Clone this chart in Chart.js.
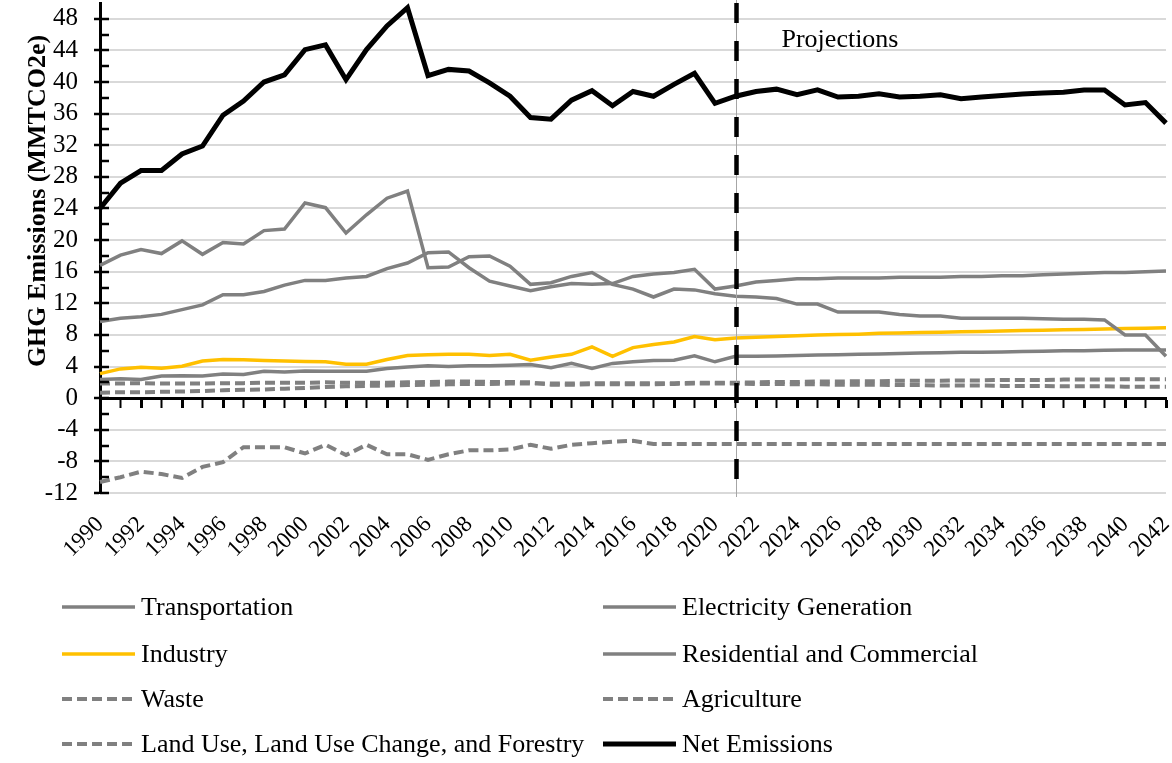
<!DOCTYPE html>
<html>
<head>
<meta charset="utf-8">
<script src="https://cdn.jsdelivr.net/npm/chart.js@4.4.0/dist/chart.umd.min.js"></script>
<style>
html, body { margin: 0; padding: 0; background: #fff; }
#wrap { width: 1172px; height: 763px; position: relative; }
</style>
</head>
<body>
<div id="wrap"><canvas id="ghg-chart"></canvas></div>
<script>
// anos 1990-2042
const anos = ["1990","1991","1992","1993","1994","1995","1996","1997","1998","1999",
  "2000","2001","2002","2003","2004","2005","2006","2007","2008","2009",
  "2010","2011","2012","2013","2014","2015","2016","2017","2018","2019",
  "2020","2021","2022","2023","2024","2025","2026","2027","2028","2029",
  "2030","2031","2032","2033","2034","2035","2036","2037","2038","2039",
  "2040","2041","2042"];
const inicioProjecao = "2021";

const transportation = [9.7,10.1,10.3,10.6,11.2,11.8,13.1,13.1,13.5,14.3,
  14.9,14.9,15.2,15.4,16.4,17.1,18.4,18.5,16.5,14.8,
  14.2,13.6,14.1,14.5,14.4,14.5,15.4,15.7,15.9,16.3,
  13.8,14.2,14.7,14.9,15.1,15.1,15.2,15.2,15.2,15.3,
  15.3,15.3,15.4,15.4,15.5,15.5,15.6,15.7,15.8,15.9,
  15.9,16.0,16.1];
const electricity = [16.8,18.1,18.8,18.3,19.9,18.2,19.7,19.5,21.2,21.4,
  24.7,24.1,20.9,23.2,25.3,26.2,16.5,16.6,17.9,18.0,
  16.7,14.4,14.6,15.4,15.9,14.4,13.8,12.8,13.8,13.7,
  13.2,12.9,12.8,12.6,11.9,11.9,10.9,10.9,10.9,10.6,
  10.4,10.4,10.1,10.1,10.1,10.1,10.05,10.0,10.0,9.9,
  8.0,8.0,5.3];
const industry = [3.1,3.7,3.9,3.8,4.05,4.7,4.9,4.85,4.75,4.7,
  4.65,4.6,4.3,4.3,4.9,5.4,5.5,5.55,5.55,5.4,
  5.55,4.8,5.2,5.55,6.5,5.3,6.4,6.8,7.1,7.8,
  7.4,7.6,7.7,7.8,7.9,8.0,8.05,8.1,8.2,8.25,
  8.3,8.35,8.4,8.45,8.5,8.55,8.6,8.65,8.7,8.75,
  8.8,8.85,8.9];
const resCom = [2.35,2.45,2.35,2.8,2.85,2.8,3.05,3.0,3.4,3.3,
  3.45,3.4,3.4,3.4,3.75,3.95,4.1,4.0,4.1,4.1,
  4.15,4.25,3.85,4.4,3.75,4.4,4.6,4.75,4.8,5.35,
  4.6,5.3,5.3,5.35,5.4,5.45,5.5,5.55,5.6,5.65,
  5.7,5.75,5.8,5.8,5.85,5.9,5.95,6.0,6.0,6.05,
  6.1,6.1,6.1];
const waste = [0.7,0.75,0.75,0.8,0.85,0.9,1.0,1.05,1.1,1.2,
  1.3,1.4,1.5,1.55,1.6,1.65,1.7,1.75,1.8,1.8,
  1.85,1.85,1.85,1.85,1.9,1.9,1.9,1.9,1.9,1.95,
  1.95,1.95,2.0,2.05,2.05,2.1,2.1,2.15,2.15,2.2,
  2.2,2.2,2.25,2.25,2.3,2.3,2.3,2.35,2.35,2.35,
  2.4,2.4,2.4];
const agriculture = [1.85,1.85,1.9,1.85,1.85,1.85,1.9,1.9,1.95,1.95,
  1.95,2.0,1.95,1.95,1.95,2.0,2.05,2.1,2.1,2.05,
  2.05,2.0,1.7,1.7,1.75,1.75,1.75,1.75,1.8,1.85,
  1.85,1.85,1.8,1.8,1.75,1.75,1.7,1.7,1.7,1.65,
  1.65,1.6,1.6,1.6,1.55,1.55,1.55,1.5,1.5,1.5,
  1.45,1.45,1.45];
const lulucf = [-10.6,-10.0,-9.3,-9.6,-10.1,-8.7,-8.1,-6.2,-6.2,-6.2,
  -7.0,-5.9,-7.2,-5.9,-7.1,-7.1,-7.8,-7.1,-6.6,-6.6,
  -6.5,-5.9,-6.4,-5.9,-5.7,-5.5,-5.4,-5.8,-5.8,-5.8,
  -5.8,-5.8,-5.8,-5.8,-5.8,-5.8,-5.8,-5.8,-5.8,-5.8,
  -5.8,-5.8,-5.8,-5.8,-5.8,-5.8,-5.8,-5.8,-5.8,-5.8,
  -5.8,-5.8,-5.8];
const netEmissions = [24.0,27.2,28.8,28.8,30.9,31.9,35.8,37.6,40.0,40.9,
  44.1,44.7,40.3,44.1,47.1,49.4,40.8,41.6,41.4,39.9,
  38.2,35.5,35.3,37.7,38.9,37.0,38.8,38.2,39.7,41.1,
  37.3,38.2,38.8,39.1,38.4,39.0,38.1,38.2,38.5,38.1,
  38.2,38.4,37.9,38.1,38.3,38.5,38.6,38.7,39.0,39.0,
  37.1,37.4,34.8];

const cinza = "#808080";
const amarelo = "#ffc000";
const fonte = "'Liberation Serif', 'Times New Roman', serif";
Chart.defaults.font.family = fonte;
Chart.defaults.color = "#000";

function linha(label, data, cor, largura, tracejado, ordem) {
  return {
    label: label,
    data: data,
    borderColor: cor,
    backgroundColor: cor,
    borderWidth: largura,
    borderDash: tracejado,
    pointRadius: 0,
    tension: 0,
    fill: false,
    order: ordem
  };
}

// legenda em duas colunas + linha de projecao + titulo do eixo
const extras = {
  id: "extras",
  afterDatasetsDraw(chart) {
    const ctx = chart.ctx;
    const xs = chart.scales.x;
    const ys = chart.scales.y;
    const area = chart.chartArea;

    // marcas internas do eixo y
    ctx.save();
    ctx.strokeStyle = "#000";
    ctx.lineWidth = 2.5;
    ys.ticks.forEach((t) => {
      if (t.value > 48) return;
      const py = Math.round(ys.getPixelForValue(t.value));
      ctx.beginPath();
      ctx.moveTo(area.left, py);
      ctx.lineTo(area.left + 9, py);
      ctx.stroke();
    });
    ctx.restore();

    const px = Math.round(xs.getPixelForValue(anos.indexOf(inicioProjecao))) + 0.5;
    ctx.save();
    ctx.strokeStyle = "#a6a6a6";
    ctx.lineWidth = 1;
    ctx.beginPath();
    ctx.moveTo(px, 0);
    ctx.lineTo(px, area.bottom + 4);
    ctx.stroke();
    ctx.strokeStyle = "#000";
    ctx.lineWidth = 4.5;
    ctx.setLineDash([20, 18]);
    ctx.beginPath();
    ctx.moveTo(px, 3);
    ctx.lineTo(px, area.bottom + 4);
    ctx.stroke();
    ctx.setLineDash([]);
    ctx.fillStyle = "#000";
    ctx.font = "26px " + fonte;
    ctx.textAlign = "left";
    ctx.textBaseline = "alphabetic";
    ctx.fillText("Projections", px + 45, 47);
    ctx.restore();
  },
  afterDraw(chart) {
    const ctx = chart.ctx;
    ctx.save();
    // titulo do eixo y
    ctx.translate(45, 201);
    ctx.rotate(-Math.PI / 2);
    ctx.fillStyle = "#000";
    ctx.font = "bold 26px " + fonte;
    ctx.textAlign = "center";
    ctx.textBaseline = "alphabetic";
    ctx.fillText("GHG Emissions (MMTCO2e)", 0, 0);
    ctx.restore();

    const colX = [62, 603];
    const rowY = [607, 654, 699, 744];
    ctx.save();
    ctx.font = "26px " + fonte;
    ctx.textBaseline = "middle";
    ctx.textAlign = "left";
    chart.data.datasets.forEach((ds, i) => {
      const x = colX[i % 2];
      const y = rowY[Math.floor(i / 2)];
      ctx.strokeStyle = ds.borderColor;
      ctx.lineWidth = ds.borderWidth;
      ctx.setLineDash(ds.borderDash || []);
      ctx.beginPath();
      ctx.moveTo(x, y);
      ctx.lineTo(x + 73, y);
      ctx.stroke();
      ctx.setLineDash([]);
      ctx.fillStyle = "#000";
      ctx.fillText(ds.label, x + 79, y + 1);
    });
    ctx.restore();
  }
};

new Chart(document.getElementById("ghg-chart"), {
  type: "line",
  data: {
    labels: anos,
    datasets: [
      linha("Transportation", transportation, cinza, 3.5, [], 1),
      linha("Electricity Generation", electricity, cinza, 3.5, [], 1),
      linha("Industry", industry, amarelo, 3.5, [], 1),
      linha("Residential and Commercial", resCom, cinza, 3.5, [], 1),
      linha("Waste", waste, cinza, 4, [10, 5], 1),
      linha("Agriculture", agriculture, cinza, 4, [10, 5], 1),
      linha("Land Use, Land Use Change, and Forestry", lulucf, cinza, 4, [10, 5], 1),
      linha("Net Emissions", netEmissions, "#000", 5, [], 0)
    ]
  },
  options: {
    responsive: true,
    maintainAspectRatio: false,
    animation: false,
    layout: { padding: { top: 3, left: 0, right: 6, bottom: 180 } },
    plugins: {
      legend: { display: false },
      tooltip: { enabled: false },
      title: { display: false }
    },
    scales: {
      y: {
        min: -12,
        max: 50,
        ticks: {
          stepSize: 2,
          autoSkip: false,
          padding: 16,
          color: "#000",
          font: { size: 25 },
          callback: (v) => (v % 4 === 0 && v <= 48) ? String(v) : ""
        },
        grid: {
          color: (c) => (c.tick && c.tick.value % 4 === 0 && c.tick.value !== 0 && c.tick.value <= 48) ? "#d9d9d9" : "rgba(0,0,0,0)",
          lineWidth: 2,
          tickColor: (c) => (c.tick && c.tick.value % 4 === 0 && c.tick.value <= 48) ? "#000" : "rgba(0,0,0,0)",
          tickLength: 6,
          tickWidth: 2.5
        },
        border: { color: "#000", width: 3 },
        afterFit: (s) => { s.width = 100; s.paddingTop = 0; s.paddingBottom = 0; }
      },
      x: {
        type: "category",
        position: { y: 0 },
        ticks: { display: false },
        grid: {
          drawOnChartArea: false,
          drawTicks: true,
          tickLength: 8,
          tickColor: "#000",
          tickWidth: (c) => c.index % 2 === 0 ? 3 : 2
        },
        border: { color: "#000", width: 3 },
        afterFit: (s) => { s.paddingLeft = 0; s.paddingRight = 0; }
      },
      x2: {
        type: "category",
        labels: anos,
        position: "bottom",
        grid: { display: false, drawTicks: false },
        border: { display: false },
        ticks: {
          autoSkip: false,
          maxRotation: 45,
          minRotation: 45,
          padding: 18,
          color: "#000",
          font: { size: 23 },
          callback: function (v, i) { return i % 2 === 0 ? this.getLabelForValue(v) : ""; }
        },
        afterFit: (s) => { s.height = 90; s.paddingLeft = 0; s.paddingRight = 0; }
      }
    }
  },
  plugins: [extras]
});
</script>
</body>
</html>
